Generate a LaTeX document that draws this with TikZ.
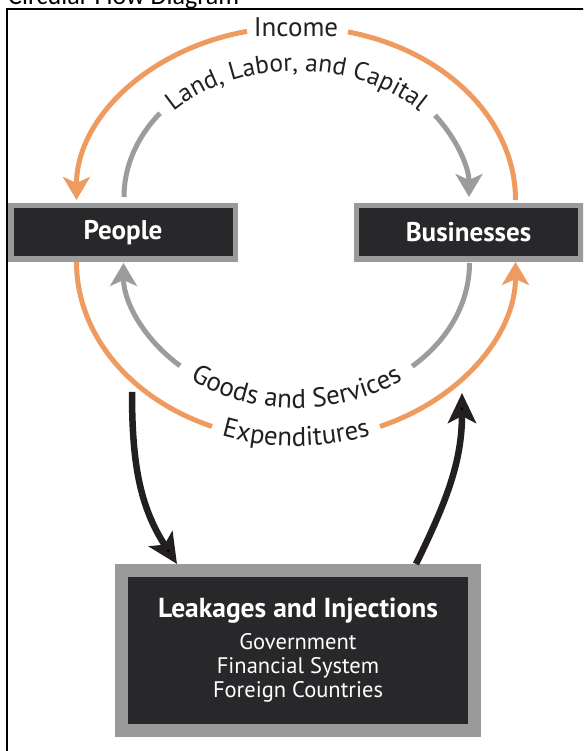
\documentclass[tikz,border=0pt]{standalone}
\usepackage{fontspec}
\setmainfont{PT Sans}
\newfontfamily\titlefont{Carlito}
\usetikzlibrary{arrows.meta, positioning, decorations.text}

\definecolor{flowOrange}{RGB}{239,154,94}
\definecolor{flowGray}{RGB}{156,156,156}
\definecolor{boxDark}{RGB}{40,40,42}
\definecolor{boxRim}{RGB}{154,154,154}
\definecolor{labelInk}{RGB}{35,31,32}

\newcommand{\flowfont}{\fontsize{27}{31}\selectfont}
\newcommand{\arcfont}{\fontsize{25.5}{29}\selectfont}

\begin{document}
\begin{tikzpicture}[x=1pt, y=1pt,
  sector/.style={fill=boxDark, draw=boxRim, line width=5.5pt, text=white,
    font=\flowfont\bfseries, minimum width=224.5pt, minimum height=53.5pt, inner sep=0pt},
  money/.style={draw=flowOrange, line width=5pt},
  goods/.style={draw=flowGray, line width=5pt},
  flowtail/.style={{Stealth[length=23pt, width=27pt, inset=6pt]}-},
  leak/.style={draw=labelInk, line width=6.5pt, -{Stealth[length=30pt, width=28pt, inset=7pt]}},
  curved/.style 2 args={decorate, decoration={text along path, text align=center, text color=labelInk, text={|#1|#2}}}]

  \useasboundingbox (0,0) rectangle (583,751);
  \clip (0,0) rectangle (583,751);

  % Frame and heading
  \node[anchor=base west, inner sep=0pt, font=\titlefont\fontsize{26}{30}\selectfont] (title) at (8,746) {Circular Flow Diagram};
  \draw[line width=2pt] (7,-10) rectangle (600,742);

  % Nodes
  \node[sector] (people) at (123,518.5) {People};
  \node[sector] (biz) at (468.5,518.5) {Businesses};
  \node[sector, line width=13pt, minimum width=353pt, minimum height=160pt, align=center,
    font=\fontsize{22.5}{24}\selectfont] (leak) at (298,100.5)
    {{\fontsize{27.5}{31}\selectfont\bfseries Leakages and Injections}\\[8pt] Government\\ Financial System\\ Foreign Countries};
  \node[text=labelInk, font=\flowfont, inner sep=0pt] (income) at (296,724) {Income};
  \coordinate (spend) at (132,359);
  \coordinate (inject) at (462,358);

  % Outer loop: income and expenditures
  \draw[money] ([shift={(47,3)}]biz.north) arc[start angle=0, end angle=76.3, x radius=219.5, y radius=173];
  \draw[money, flowtail] ([shift={(-46.5,3)}]people.north) arc[start angle=180, end angle=102.9, x radius=219.5, y radius=173];
  \draw[money] ([xshift=-46.5pt]people.south) arc[start angle=180, end angle=247.5, x radius=219.5, y radius=178];
  \draw[money, flowtail] ([xshift=47pt]biz.south) arc[start angle=360, end angle=292.5, x radius=219.5, y radius=178];

  % Inner loop: resources and goods
  \draw[goods] ([shift={(1,6)}]people.north) arc[start angle=180, end angle=142.3, x radius=172.5, y radius=137];
  \draw[goods, flowtail] ([shift={(0.5,6)}]biz.north) arc[start angle=0, end angle=36.6, x radius=172.5, y radius=137];
  \draw[goods] ([shift={(1,-1)}]biz.south) arc[start angle=360, end angle=312, x radius=173, y radius=139];
  \draw[goods, flowtail] ([shift={(0.5,-1)}]people.south) arc[start angle=180, end angle=227.7, x radius=173, y radius=139];

  % Curved labels
  \path[curved={\arcfont}{Land, Labor, and Capital}] (129.5,554) arc[start angle=180, end angle=0, x radius=167, y radius=126];
  \path[curved={\flowfont}{Goods and Services}] (117.5,488) arc[start angle=180, end angle=360, x radius=179, y radius=145];
  \path[curved={\flowfont}{Expenditures}] (70,489) arc[start angle=180, end angle=360, x radius=226, y radius=184];

  % Edges
  \draw[leak] (spend) to[out=-90, in=123] ([xshift=-121pt]leak.north);
  \draw[leak] ([xshift=118pt]leak.north) to[out=64, in=-90] (inject);

\end{tikzpicture}
\end{document}
